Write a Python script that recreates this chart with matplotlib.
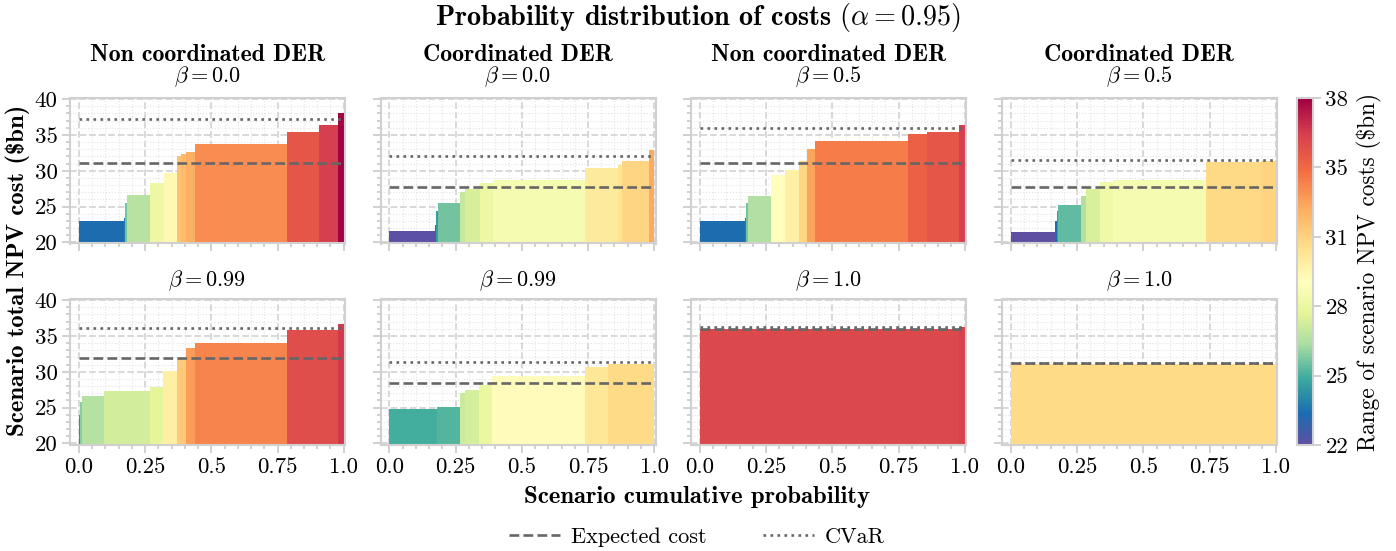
import numpy as np
import matplotlib
matplotlib.use("Agg")
import matplotlib.pyplot as plt
from matplotlib.lines import Line2D
from matplotlib.ticker import MultipleLocator, FixedLocator
import matplotlib.colors as mcolors
import matplotlib.cm as cm

plt.rcParams['font.family'] = 'cmr10'
plt.rcParams['mathtext.fontset'] = 'cm'
plt.rcParams['axes.formatter.use_mathtext'] = True

# ---------------- data ----------------
suptitle_text = r"Probability distribution of costs $(\alpha = 0.95)$"
col_titles = ["Non coordinated DER", "Coordinated DER", "Non coordinated DER", "Coordinated DER"]
beta_labels = [[r"$\beta = 0.0$", r"$\beta = 0.0$", r"$\beta = 0.5$", r"$\beta = 0.5$"],
               [r"$\beta = 0.99$", r"$\beta = 0.99$", r"$\beta = 1.0$", r"$\beta = 1.0$"]]
x_ticks = [0.0, 0.25, 0.5, 0.75, 1.0]
x_tick_labels = ["0.0", "0.25", "0.5", "0.75", "1.0"]
y_ticks = [20, 25, 30, 35, 40]
cbar_tick_labels = ["22", "25", "28", "31", "35", "38"]
cost_min, cost_max = 21.5, 38.1

# Non coordinated DER, beta = 0.0
nc_b00_probs = [0.171, 0.003, 0.006, 0.088, 0.054, 0.048, 0.017, 0.017, 0.034, 0.346, 0.123, 0.072, 0.021]
nc_b00_costs = [22.96, 23.4, 25.5, 26.67, 28.29, 29.68, 32.08, 32.3, 32.68, 33.75, 35.46, 36.39, 38.0]
nc_b00_expected, nc_b00_cvar = 31.07, 37.2
# Coordinated DER, beta = 0.0
c_b00_probs = [0.171, 0.006, 0.007, 0.084, 0.019, 0.054, 0.049, 0.347, 0.125, 0.016, 0.104, 0.018]
c_b00_costs = [21.57, 22.5, 24.35, 25.5, 27.0, 27.46, 28.3, 28.75, 30.4, 30.8, 31.3, 32.9]
c_b00_expected, c_b00_cvar = 27.7, 32.1
# Non coordinated DER, beta = 0.5
nc_b05_probs = [0.170, 0.005, 0.005, 0.088, 0.055, 0.051, 0.032, 0.030, 0.348, 0.074, 0.119, 0.023]
nc_b05_costs = [22.96, 23.4, 25.5, 26.5, 29.4, 30.1, 31.3, 33.05, 34.2, 35.1, 35.46, 36.4]
nc_b05_expected, nc_b05_cvar = 31.15, 35.9
# Coordinated DER, beta = 0.5
c_b05_probs = [0.167, 0.006, 0.006, 0.085, 0.020, 0.053, 0.049, 0.350, 0.207, 0.057]
c_b05_costs = [21.5, 22.96, 24.35, 25.2, 26.5, 27.5, 28.4, 28.75, 31.2, 31.4]
c_b05_expected, c_b05_cvar = 27.8, 31.5
# Non coordinated DER, beta = 0.99
nc_b099_probs = [0.004, 0.006, 0.086, 0.172, 0.050, 0.053, 0.035, 0.033, 0.347, 0.193, 0.021]
nc_b099_costs = [24.0, 25.8, 26.6, 27.3, 27.9, 30.15, 31.75, 33.25, 34.0, 35.8, 36.6]
nc_b099_expected, nc_b099_cvar = 31.95, 36.1
# Coordinated DER, beta = 0.99
c_b099_probs = [0.180, 0.088, 0.019, 0.050, 0.050, 0.353, 0.085, 0.175]
c_b099_costs = [24.8, 25.05, 27.1, 27.4, 28.15, 29.45, 30.6, 31.15]
c_b099_expected, c_b099_cvar = 28.5, 31.4
# Non coordinated DER, beta = 1.0
nc_b10_probs = [0.978, 0.022]
nc_b10_costs = [36.0, 36.25]
nc_b10_expected, nc_b10_cvar = 36.0, 36.2
# Coordinated DER, beta = 1.0
c_b10_probs = [1.0]
c_b10_costs = [31.15]
c_b10_expected, c_b10_cvar = 31.2, 31.2

panels = [
    [(nc_b00_probs, nc_b00_costs, nc_b00_expected, nc_b00_cvar),
     (c_b00_probs, c_b00_costs, c_b00_expected, c_b00_cvar),
     (nc_b05_probs, nc_b05_costs, nc_b05_expected, nc_b05_cvar),
     (c_b05_probs, c_b05_costs, c_b05_expected, c_b05_cvar)],
    [(nc_b099_probs, nc_b099_costs, nc_b099_expected, nc_b099_cvar),
     (c_b099_probs, c_b099_costs, c_b099_expected, c_b099_cvar),
     (nc_b10_probs, nc_b10_costs, nc_b10_expected, nc_b10_cvar),
     (c_b10_probs, c_b10_costs, c_b10_expected, c_b10_cvar)],
]

# ---------------- figure ----------------
W, H = 1396, 551
fig = plt.figure(figsize=(W / 100, H / 100), dpi=100)
cmap_nodes = [(0.0, '#5e4fa2'), (0.09, '#1a6db0'), (0.19, '#3caa9e'), (0.29, '#abdda4'),
              (0.38, '#e6f598'), (0.47, '#ffffbf'), (0.57, '#fee08b'), (0.68, '#fdae61'),
              (0.79, '#f46d43'), (0.90, '#d53e4f'), (1.0, '#9e0142')]
cmap = mcolors.LinearSegmentedColormap.from_list('spectral_like', cmap_nodes, N=256)
norm = mcolors.Normalize(vmin=cost_min, vmax=cost_max)

def px_rect(l, t, w, h):
    return [l / W, 1 - (t + h) / H, w / W, h / H]

lefts = [70, 380.5, 691, 1002]
tops = [98, 299]
aw, ah = 275, 145.5
line_col = '#666666'
spine_col = '#d0d0d0'

for r in range(2):
    for c in range(4):
        probs, costs, expv, cvar = panels[r][c]
        ax = fig.add_axes(px_rect(lefts[c], tops[r], aw, ah))
        lefts_x = np.concatenate([[0.0], np.cumsum(probs)[:-1]])
        ax.bar(lefts_x, costs, width=probs, align='edge',
               color=cmap(norm(np.array(costs))), linewidth=0, zorder=2)
        ax.hlines(cvar, 0, 1, colors=line_col, linestyles=':', lw=1.9, zorder=3)
        ax.hlines(expv, 0, 1, colors=line_col, linestyles='--', lw=1.9, zorder=4)
        ax.set_xlim(-0.034, 1.005)
        ax.set_ylim(19.85, 40.15)
        ax.xaxis.set_major_locator(FixedLocator(x_ticks))
        ax.xaxis.set_minor_locator(MultipleLocator(0.05))
        ax.yaxis.set_major_locator(FixedLocator(y_ticks))
        ax.yaxis.set_minor_locator(MultipleLocator(1))
        ax.set_axisbelow(True)
        ax.grid(which='major', ls='--', color='#d6d6d6', lw=1.3, zorder=0)
        ax.grid(which='minor', ls=':', color='#e4e4e4', lw=0.8, zorder=0)
        for sp in ax.spines.values():
            sp.set_color(spine_col)
            sp.set_linewidth(1.5)
        ax.tick_params(which='both', direction='out', color='#c8c8c8', width=1.2)
        ax.tick_params(which='major', length=6, labelsize=16.5, pad=3)
        ax.tick_params(which='minor', length=3)
        if r == 1:
            ax.set_xticklabels(x_tick_labels)
        else:
            ax.tick_params(labelbottom=False)
        if c == 0:
            ax.set_yticklabels([str(v) for v in y_ticks])
        else:
            ax.tick_params(labelleft=False)
        cx = (lefts[c] + aw / 2) / W
        if r == 0:
            fig.text(cx, 1 - 55 / H, col_titles[c], ha='center', va='center',
                     fontfamily='cmb10', fontsize=17.2)
            fig.text(cx, 1 - 77 / H, beta_labels[r][c], ha='center', va='center', fontsize=16)
        else:
            fig.text(cx, 1 - 281 / H, beta_labels[r][c], ha='center', va='center', fontsize=16)

fig.text(698 / W, 1 - 18 / H, suptitle_text, ha='center', va='center',
         fontfamily='cmb10', fontsize=20.3)
fig.text(697 / W, 1 - 497 / H, "Scenario cumulative probability", ha='center', va='center',
         fontfamily='cmb10', fontsize=17.8)
fig.text(18 / W, 1 - 270 / H, r"Scenario total NPV cost (\$bn)", ha='center', va='center',
         rotation=90, fontfamily='cmb10', fontsize=17.8)

# colorbar
cax = fig.add_axes(px_rect(1297, 98, 16, 347))
sm = cm.ScalarMappable(norm=norm, cmap=cmap)
cb = fig.colorbar(sm, cax=cax)
cb.set_ticks(np.linspace(cost_min, cost_max, 6))
cb.set_ticklabels(cbar_tick_labels)
cb.outline.set_edgecolor(spine_col)
cb.outline.set_linewidth(1.5)
cax.tick_params(direction='out', color='#c8c8c8', width=1.2, length=6, labelsize=16.5, pad=3)
cb.set_label(r"Range of scenario NPV costs (\$bn)", fontsize=16.8, labelpad=6)

# legend
handles = [Line2D([], [], color=line_col, ls='--', lw=1.9),
           Line2D([], [], color=line_col, ls=':', lw=1.9)]
fig.legend(handles, ["Expected cost", "CVaR"], loc='center', bbox_to_anchor=(697 / W, 1 - 537 / H),
           ncol=2, frameon=False, fontsize=16, handlelength=2.3, handletextpad=0.5,
           columnspacing=2.5)

fig.savefig("out.png", dpi=100)
